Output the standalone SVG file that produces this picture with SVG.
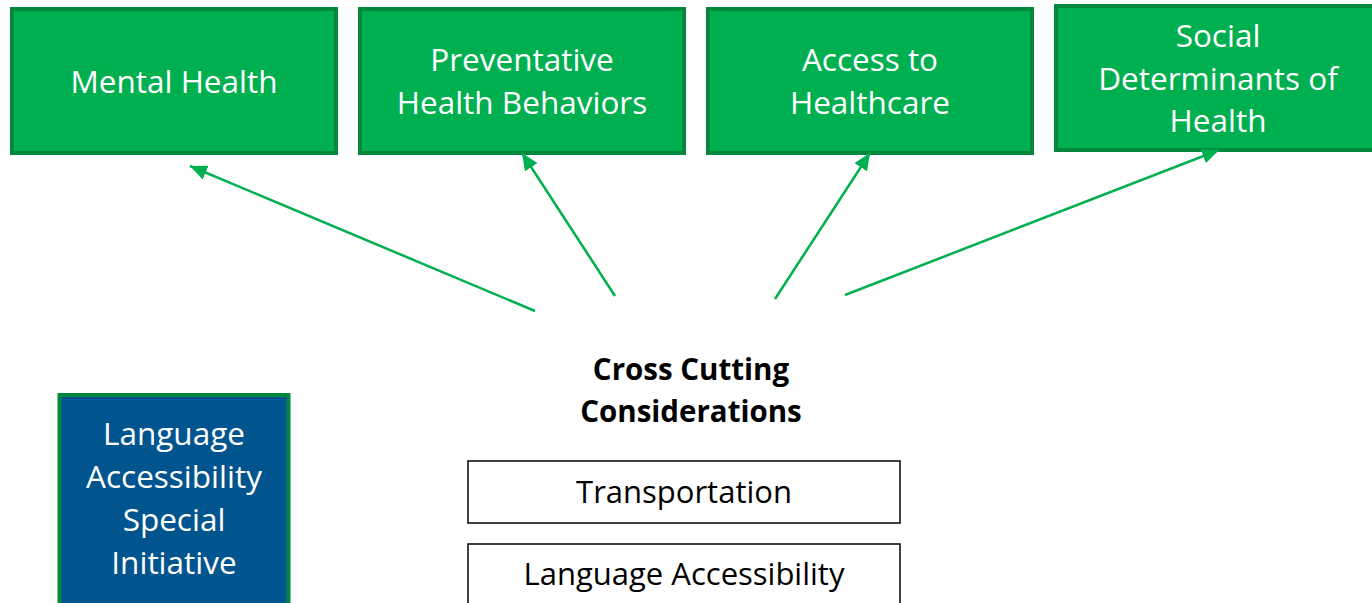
<svg xmlns="http://www.w3.org/2000/svg" width="1372" height="603" viewBox="0 0 1372 603">
<style>
.g{fill:#00b050;stroke:#02873d;stroke-width:4}
.b{fill:#00558f;stroke:#02873d;stroke-width:4}
.w{fill:#ffffff;stroke:#000000;stroke-width:1.5}
.t{font-family:"Open Sans","Noto Sans",sans-serif;font-size:31.5px;fill:#ffffff;text-anchor:middle}
.k{font-family:"Open Sans","Noto Sans",sans-serif;font-size:31px;fill:#000000;text-anchor:middle}
.h{font-family:"Open Sans","Noto Sans",sans-serif;font-size:29.5px;font-weight:bold;fill:#000000;text-anchor:middle}
.c{stroke:#00b050;stroke-width:2.5;fill:none;marker-end:url(#ah)}
</style>
<defs>
<marker id="ah" markerUnits="userSpaceOnUse" markerWidth="19" markerHeight="15" refX="17" refY="7.5" orient="auto">
<path d="M0,0 L17,7.5 L0,15 Z" fill="#00b050"/>
</marker>
</defs>
<rect width="1372" height="603" fill="#ffffff"/>
<g id="mental-health"><rect class="g" x="12" y="9" width="324" height="144"/><text class="t" x="174" y="93">Mental Health</text></g>
<g id="preventative"><rect class="g" x="360" y="9" width="324" height="144"/><text class="t" x="522" y="71">Preventative</text><text class="t" x="522" y="114">Health Behaviors</text></g>
<g id="access"><rect class="g" x="708" y="9" width="324" height="144"/><text class="t" x="870" y="71">Access to</text><text class="t" x="870" y="114">Healthcare</text></g>
<g id="social"><rect class="g" x="1056" y="6" width="330" height="144"/><text class="t" x="1218" y="47">Social</text><text class="t" x="1218" y="90">Determinants of</text><text class="t" x="1218" y="132">Health</text></g>
<g id="language-initiative"><rect class="b" x="59.5" y="395" width="229" height="232"/><text class="t" x="174" y="445">Language</text><text class="t" x="174" y="488">Accessibility</text><text class="t" x="174" y="531">Special</text><text class="t" x="174" y="574">Initiative</text></g>
<g id="cross-cutting"><text class="h" x="691" y="380">Cross Cutting</text><text class="h" x="691" y="422">Considerations</text></g>
<g id="transportation"><rect class="w" x="468" y="461" width="432" height="62"/><text class="k" x="684" y="503">Transportation</text></g>
<g id="language-accessibility"><rect class="w" x="468" y="544" width="432" height="80"/><text class="k" x="684" y="585">Language Accessibility</text></g>
<g id="connectors">
<line class="c" x1="535" y1="311" x2="190" y2="166"/>
<line class="c" x1="615" y1="296" x2="522" y2="153"/>
<line class="c" x1="775" y1="299" x2="870" y2="153"/>
<line class="c" x1="845" y1="295" x2="1219" y2="150"/>
</g>
</svg>
